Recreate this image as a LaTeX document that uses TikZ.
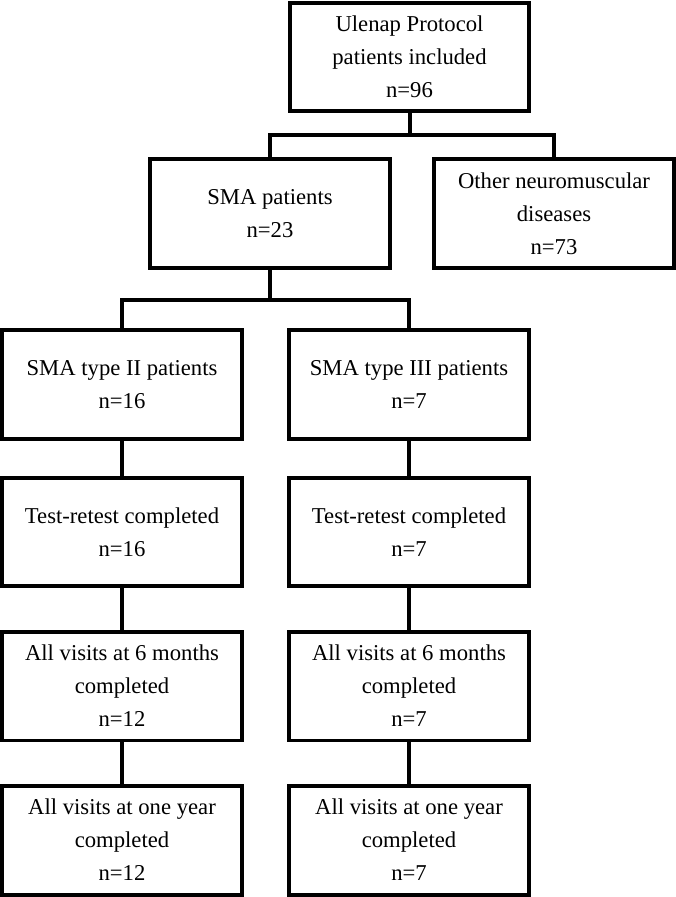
\documentclass[tikz,border=0pt]{standalone}
\usepackage{fontspec}
\setmainfont{Liberation Serif}

\begin{document}
\begin{tikzpicture}[x=0.02cm,y=-0.02cm,
		flowbox/.style={draw=black,line width=0.08cm,minimum width=4.8cm,minimum height=2.18cm,inner sep=0pt,align=center,font=\fontsize{12.9}{18.8}\selectfont},
		link/.style={draw=black,line width=0.08cm}]
		\useasboundingbox (0,0) rectangle (676,897);
		
		%boxes
		\node[flowbox] (ulenap) at (409.5,57) {Ulenap Protocol\\patients included\\n=96};
		\node[flowbox] (sma) at (270,213.5) {SMA patients\\n=23};
		\node[flowbox] (other) at (554,213.5) {Other neuromuscular\\diseases\\n=73};
		
		\node[flowbox] (smatwo) at (122,384.5) {SMA type II patients\\n=16};
		\node[flowbox] (smathree) at (409,384.5) {SMA type III patients\\n=7};
		
		\node[flowbox] (testtwo) at (122,532) {Test-retest completed\\n=16};
		\node[flowbox] (testthree) at (409,532) {Test-retest completed\\n=7};
		
		\node[flowbox] (monthtwo) at (122,686) {All visits at 6 months\\completed\\n=12};
		\node[flowbox] (monththree) at (409,686) {All visits at 6 months\\completed\\n=7};
		
		\node[flowbox] (yeartwo) at (122,840) {All visits at one year\\completed\\n=12};
		\node[flowbox] (yearthree) at (409,840) {All visits at one year\\completed\\n=7};
		
		%forks
		\coordinate (forkone) at (409.5,135);
		\coordinate (forktwo) at (270,300);
		
		%connectors
		\draw[link] (ulenap.south) -- (forkone);
		\draw[link] (sma.north) |- (forkone) -| (other.north);
		\draw[link] (sma.south) -- (forktwo);
		\draw[link] (smatwo.north) |- (forktwo) -| (smathree.north);
		
		\draw[link] (smatwo) -- (testtwo);
		\draw[link] (testtwo) -- (monthtwo);
		\draw[link] (monthtwo) -- (yeartwo);
		
		\draw[link] (smathree) -- (testthree);
		\draw[link] (testthree) -- (monththree);
		\draw[link] (monththree) -- (yearthree);
		
	\end{tikzpicture}
\end{document}
